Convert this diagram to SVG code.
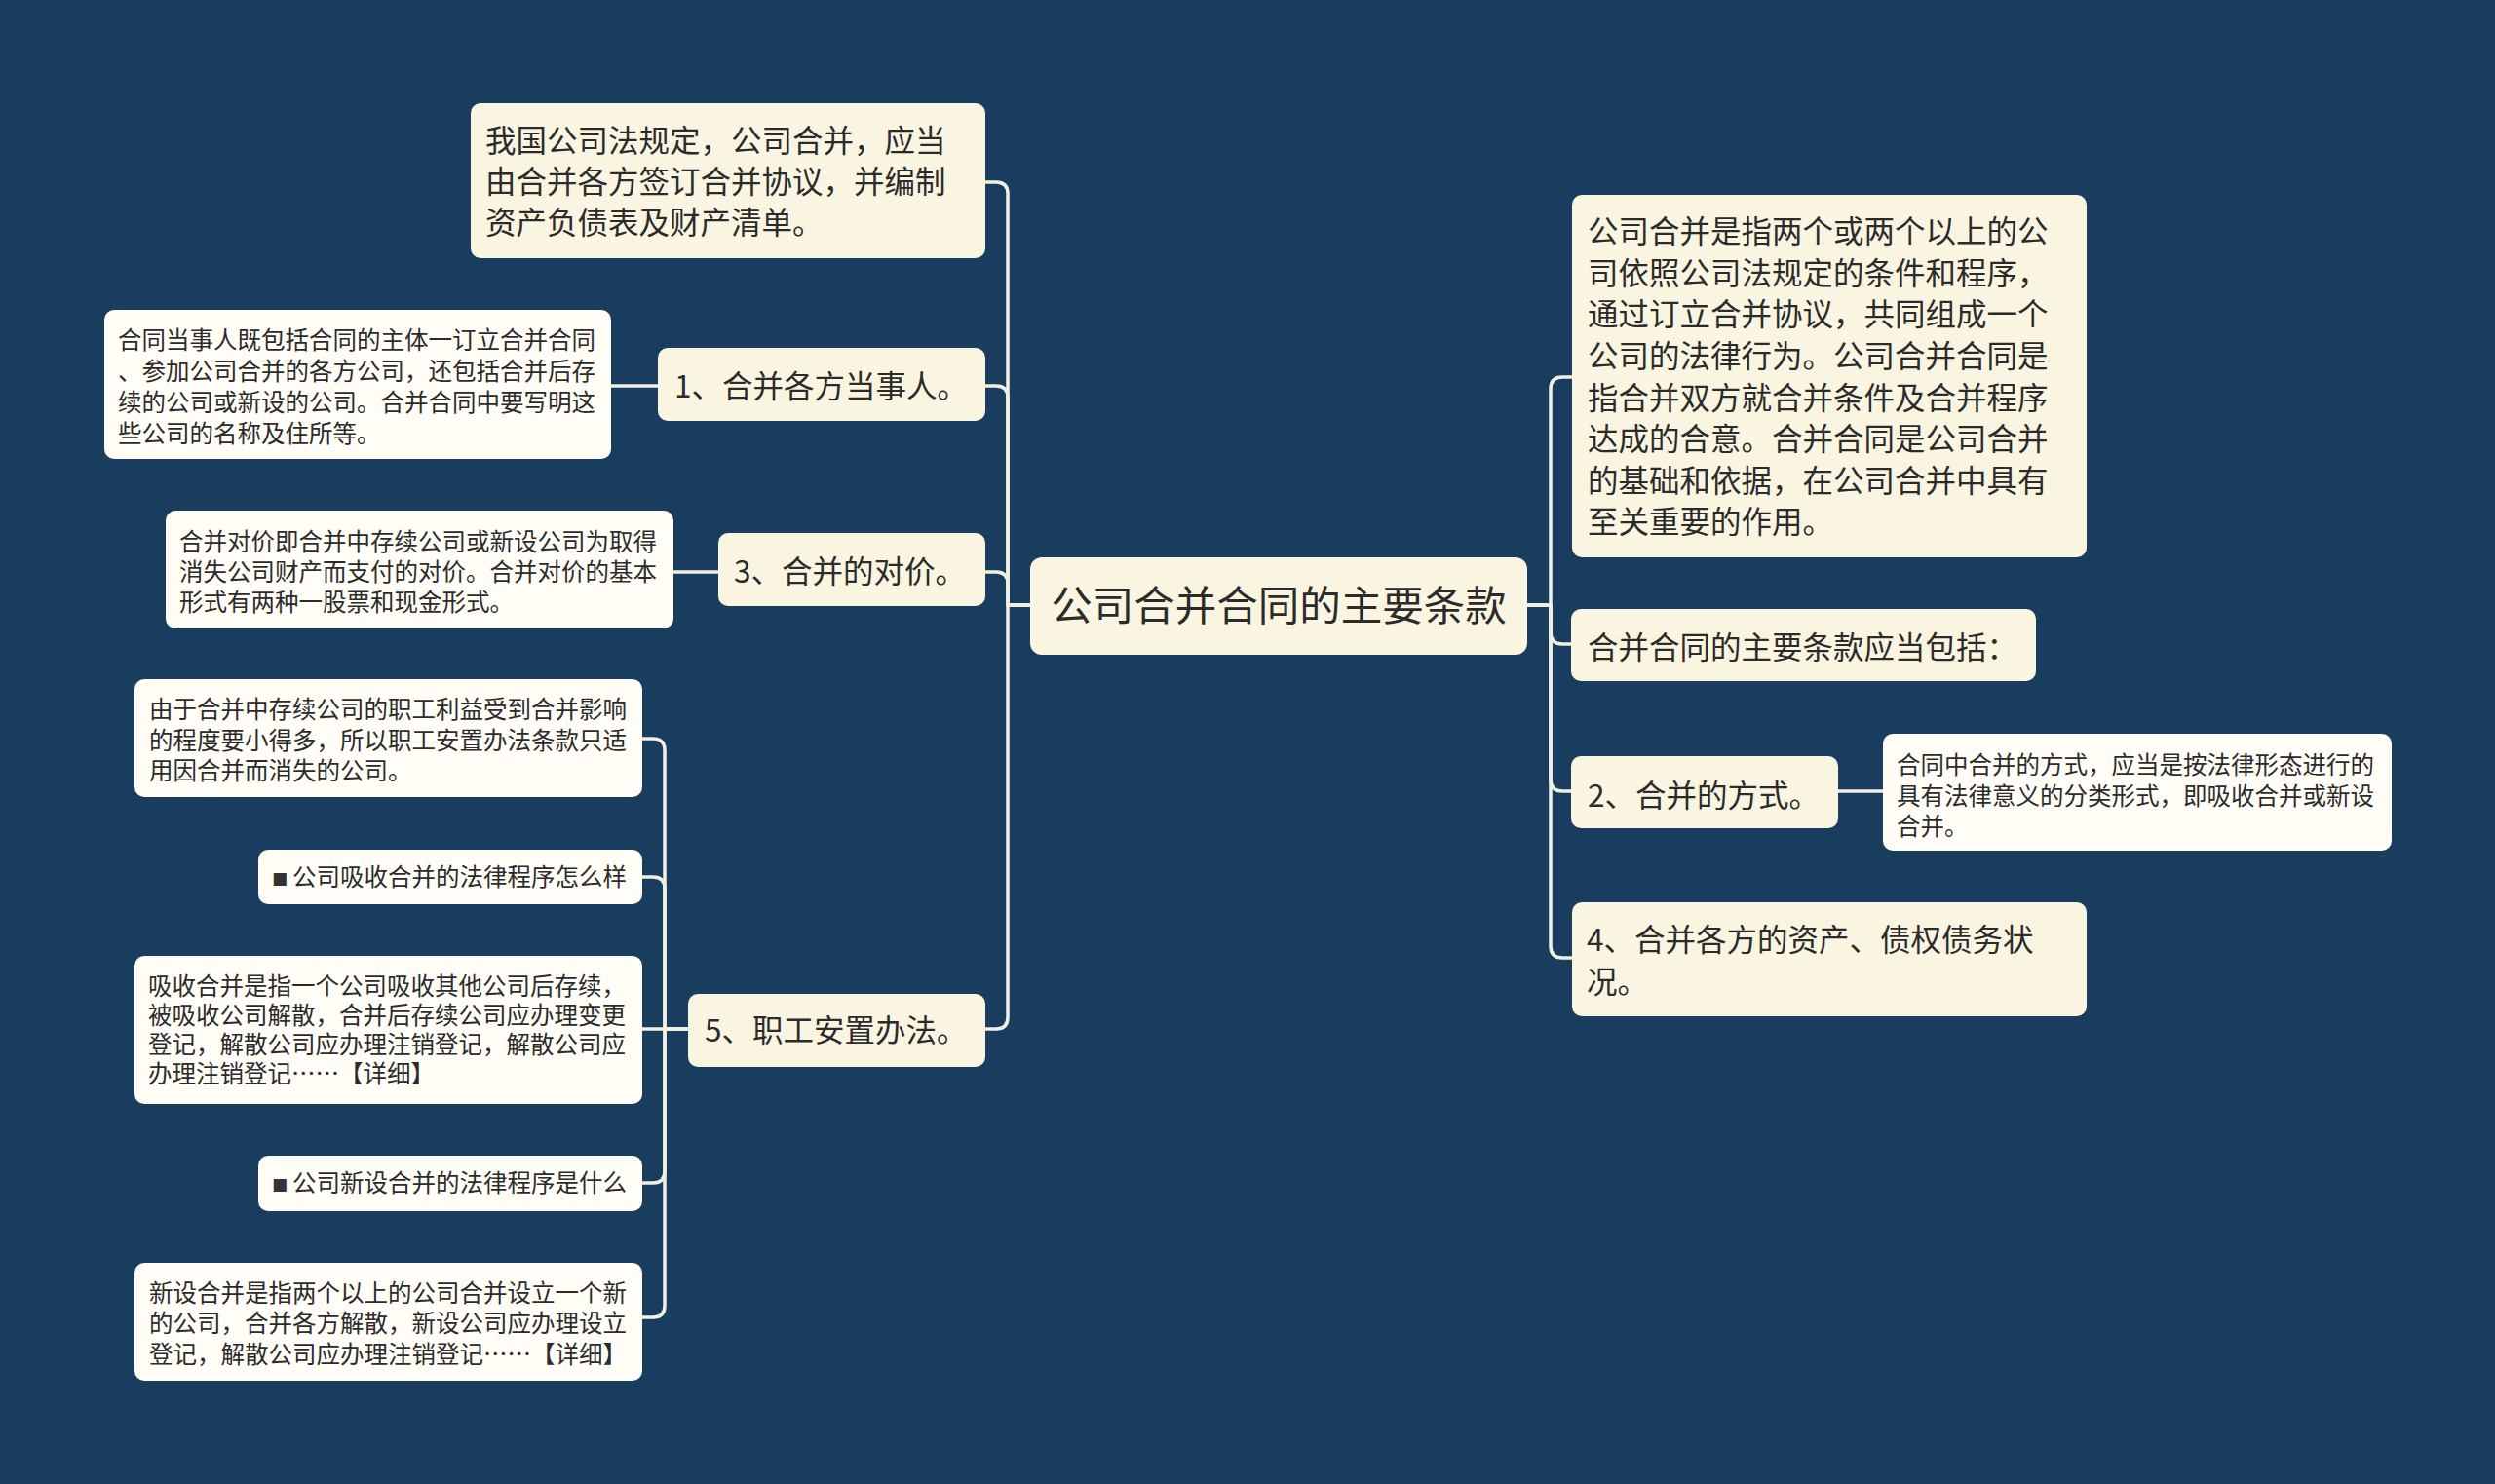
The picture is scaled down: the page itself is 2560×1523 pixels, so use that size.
<svg xmlns="http://www.w3.org/2000/svg" width="2560" height="1523" viewBox="0 0 2560 1523">
<style>
.bg{fill:#183d5e}
.n{fill:#faf5e1}
.l{fill:#fffdf6}
.c{fill:none;stroke:#f2efe4;stroke-width:3.5;stroke-linecap:round;stroke-linejoin:round}
text{font-family:"Noto Sans CJK SC","Noto Sans",sans-serif;fill:#2b2b2b}
.t0{font-size:42.5px}
.t1{font-size:31.5px}
.t2{font-size:24.5px}
.b{font-family:"DejaVu Sans",sans-serif;font-size:17px;fill:#333}
</style>
<rect class="bg" x="0" y="0" width="2560" height="1523"/>
<g id="connectors">
<path class="c" d="M1057 621 H1034 V199 Q1034 187 1022 187 H1011"/>
<path class="c" d="M1057 621 H1034 V408 Q1034 396 1022 396 H1011"/>
<path class="c" d="M1057 621 H1034 V599 Q1034 587 1022 587 H1011"/>
<path class="c" d="M1057 621 H1034 V1044 Q1034 1056 1022 1056 H1011"/>
<path class="c" d="M1567 621 H1591 V399 Q1591 387 1603 387 H1613"/>
<path class="c" d="M1567 621 H1591 V649 Q1591 661 1603 661 H1612"/>
<path class="c" d="M1567 621 H1591 V800 Q1591 812 1603 812 H1612"/>
<path class="c" d="M1567 621 H1591 V971 Q1591 983 1603 983 H1613"/>
<path class="c" d="M675 396 H627"/>
<path class="c" d="M737 587 H691"/>
<path class="c" d="M1886 812 H1932"/>
<path class="c" d="M706 1056 H682 V770 Q682 758 670 758 H659"/>
<path class="c" d="M706 1056 H682 V912 Q682 900 670 900 H659"/>
<path class="c" d="M706 1056 H659"/>
<path class="c" d="M706 1056 H682 V1202 Q682 1214 670 1214 H659"/>
<path class="c" d="M706 1056 H682 V1340 Q682 1352 670 1352 H659"/>
</g>
<g id="center">
<rect class="n" x="1057" y="572" width="510" height="100" rx="12"/>
<text class="t0" x="1312" y="637" text-anchor="middle">公司合并合同的主要条款</text>
</g>
<g id="n-a">
<rect class="n" x="483" y="106" width="528" height="159" rx="10"/>
<text class="t1"><tspan x="498" y="156">我国公司法规定，公司合并，应当</tspan><tspan x="498" y="198">由合并各方签订合并协议，并编制</tspan><tspan x="498" y="240">资产负债表及财产清单。</tspan></text>
</g>
<g id="n-b">
<rect class="n" x="675" y="357" width="336" height="75" rx="10"/>
<text class="t1" x="692" y="408">1、合并各方当事人。</text>
</g>
<g id="n-b1">
<rect class="l" x="107" y="318" width="520" height="153" rx="10"/>
<text class="t2"><tspan x="121" y="358">合同当事人既包括合同的主体一订立合并合同</tspan><tspan x="121" y="390">、参加公司合并的各方公司，还包括合并后存</tspan><tspan x="121" y="422">续的公司或新设的公司。合并合同中要写明这</tspan><tspan x="121" y="454">些公司的名称及住所等。</tspan></text>
</g>
<g id="n-c">
<rect class="n" x="737" y="547" width="274" height="75" rx="10"/>
<text class="t1" x="753" y="598">3、合并的对价。</text>
</g>
<g id="n-c1">
<rect class="l" x="170" y="524" width="521" height="121" rx="10"/>
<text class="t2"><tspan x="184" y="565">合并对价即合并中存续公司或新设公司为取得</tspan><tspan x="184" y="596">消失公司财产而支付的对价。合并对价的基本</tspan><tspan x="184" y="627">形式有两种一股票和现金形式。</tspan></text>
</g>
<g id="n-d">
<rect class="n" x="706" y="1020" width="305" height="75" rx="10"/>
<text class="t1" x="723" y="1069">5、职工安置办法。</text>
</g>
<g id="n-d1">
<rect class="l" x="138" y="697" width="521" height="121" rx="10"/>
<text class="t2"><tspan x="153" y="737">由于合并中存续公司的职工利益受到合并影响</tspan><tspan x="153" y="769">的程度要小得多，所以职工安置办法条款只适</tspan><tspan x="153" y="800">用因合并而消失的公司。</tspan></text>
</g>
<g id="n-d2">
<rect class="l" x="265" y="872" width="394" height="56" rx="10"/>
<text class="b" x="279" y="907">■</text>
<text class="t2" x="300" y="909">公司吸收合并的法律程序怎么样</text>
</g>
<g id="n-d3">
<rect class="l" x="138" y="981" width="521" height="152" rx="10"/>
<text class="t2"><tspan x="152" y="1021">吸收合并是指一个公司吸收其他公司后存续，</tspan><tspan x="152" y="1051">被吸收公司解散，合并后存续公司应办理变更</tspan><tspan x="152" y="1081">登记，解散公司应办理注销登记，解散公司应</tspan><tspan x="152" y="1111">办理注销登记……【详细】</tspan></text>
</g>
<g id="n-d4">
<rect class="l" x="265" y="1186" width="394" height="57" rx="10"/>
<text class="b" x="279" y="1221">■</text>
<text class="t2" x="300" y="1223">公司新设合并的法律程序是什么</text>
</g>
<g id="n-d5">
<rect class="l" x="138" y="1296" width="521" height="121" rx="10"/>
<text class="t2"><tspan x="153" y="1336">新设合并是指两个以上的公司合并设立一个新</tspan><tspan x="153" y="1367">的公司，合并各方解散，新设公司应办理设立</tspan><tspan x="153" y="1399">登记，解散公司应办理注销登记……【详细】</tspan></text>
</g>
<g id="n-e">
<rect class="n" x="1613" y="200" width="528" height="372" rx="10"/>
<text class="t1"><tspan x="1629" y="249">公司合并是指两个或两个以上的公</tspan><tspan x="1629" y="292">司依照公司法规定的条件和程序，</tspan><tspan x="1629" y="334">通过订立合并协议，共同组成一个</tspan><tspan x="1629" y="377">公司的法律行为。公司合并合同是</tspan><tspan x="1629" y="420">指合并双方就合并条件及合并程序</tspan><tspan x="1629" y="462">达成的合意。合并合同是公司合并</tspan><tspan x="1629" y="505">的基础和依据，在公司合并中具有</tspan><tspan x="1629" y="547">至关重要的作用。</tspan></text>
</g>
<g id="n-f">
<rect class="n" x="1612" y="625" width="477" height="74" rx="10"/>
<text class="t1" x="1629" y="676">合并合同的主要条款应当包括：</text>
</g>
<g id="n-g">
<rect class="n" x="1612" y="776" width="274" height="74" rx="10"/>
<text class="t1" x="1629" y="828">2、合并的方式。</text>
</g>
<g id="n-g1">
<rect class="l" x="1932" y="753" width="522" height="120" rx="10"/>
<text class="t2"><tspan x="1946" y="794">合同中合并的方式，应当是按法律形态进行的</tspan><tspan x="1946" y="826">具有法律意义的分类形式，即吸收合并或新设</tspan><tspan x="1946" y="857">合并。</tspan></text>
</g>
<g id="n-h">
<rect class="n" x="1613" y="926" width="528" height="117" rx="10"/>
<text class="t1"><tspan x="1628" y="976">4、合并各方的资产、债权债务状</tspan><tspan x="1628" y="1019">况。</tspan></text>
</g>
</svg>
